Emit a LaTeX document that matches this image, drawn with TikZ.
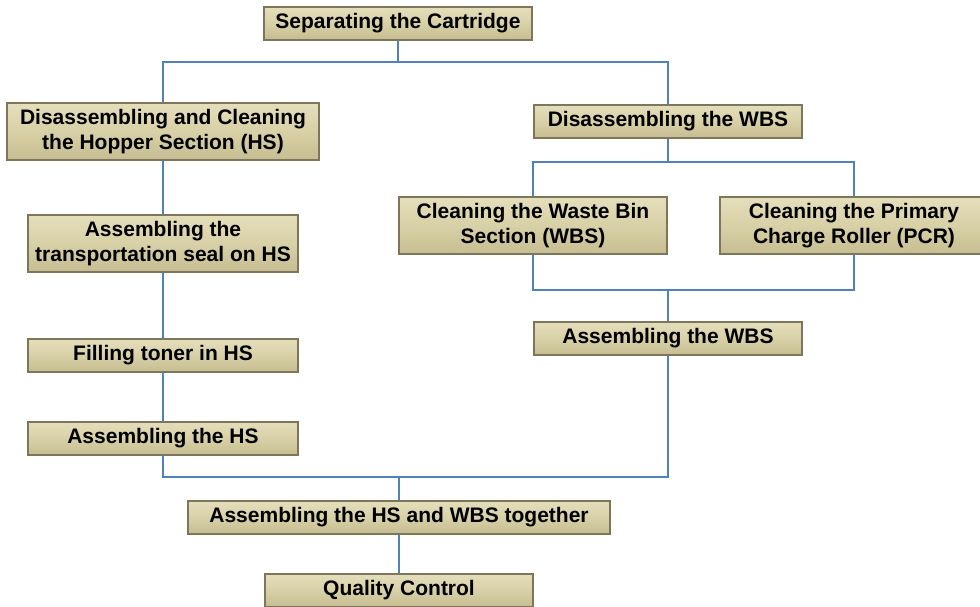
\documentclass[tikz,border=0pt]{standalone}
\usepackage{fontspec}
\setmainfont{Liberation Sans}
\definecolor{boxtop}{RGB}{228,222,188}
\definecolor{boxmid}{RGB}{216,208,166}
\definecolor{boxbot}{RGB}{198,189,146}
\definecolor{boxedge}{RGB}{125,118,90}
\definecolor{linkblue}{RGB}{79,129,189}

\begin{document}
\begin{tikzpicture}
  [x=1pt, y=-1pt,
   task/.style={draw=boxedge, line width=1.2pt, top color=boxtop, bottom color=boxbot,
                middle color=boxmid, inner sep=0pt, align=center,
                font=\fontsize{21}{25}\selectfont\bfseries, minimum height=33pt},
   tall/.style={minimum height=57pt},
   link/.style={draw=linkblue, line width=2.2pt}]
  \useasboundingbox (0,0) rectangle (980,606);

  % boxes
  \node[task, minimum width=268pt] (sep) at (398,23.5) {Separating the Cartridge};
  \node[task, tall, minimum width=312pt] (dishs) at (163,131.5)
     {Disassembling and Cleaning\\the Hopper Section (HS)};
  \node[task, minimum width=268pt] (diswbs) at (668,121.5) {Disassembling the WBS};
  \node[task, tall, minimum width=270pt] (seal) at (163,243.5)
     {Assembling the\\transportation seal on HS};
  \node[task, tall, minimum width=268pt] (clwbs) at (533,225.5)
     {Cleaning the Waste Bin\\Section (WBS)};
  \node[task, tall, minimum width=268pt] (clpcr) at (854,225.5)
     {Cleaning the Primary\\Charge Roller (PCR)};
  \node[task, minimum width=268pt] (aswbs) at (668,338.5) {Assembling the WBS};
  \node[task, minimum width=270pt] (fill) at (163,355.5) {Filling toner in HS};
  \node[task, minimum width=270pt] (ashs) at (163,438.5) {Assembling the HS};
  \node[task, minimum width=422pt] (both) at (399,517.5) {Assembling the HS and WBS together};
  \node[task, minimum width=268pt] (qc) at (399,590.5) {Quality Control};

  % junctions
  \coordinate (split1) at (398,62);
  \coordinate (split2) at (668,162);
  \coordinate (merge2) at (668,290);
  \coordinate (merge1) at (399,477);

  % connectors
  \draw[link] (sep) -- (split1);
  \draw[link] (dishs) |- (split1) -| (diswbs);
  \draw[link] (dishs) -- (seal);
  \draw[link] (seal) -- (fill);
  \draw[link] (fill) -- (ashs);
  \draw[link] (diswbs) -- (split2);
  \draw[link] (clwbs) |- (split2) -| (clpcr);
  \draw[link] (clwbs) |- (merge2) -| (clpcr);
  \draw[link] (merge2) -- (aswbs);
  \draw[link] (ashs) |- (merge1) -| (aswbs);
  \draw[link] (merge1) -- (both);
  \draw[link] (both) -- (qc);
\end{tikzpicture}
\end{document}
